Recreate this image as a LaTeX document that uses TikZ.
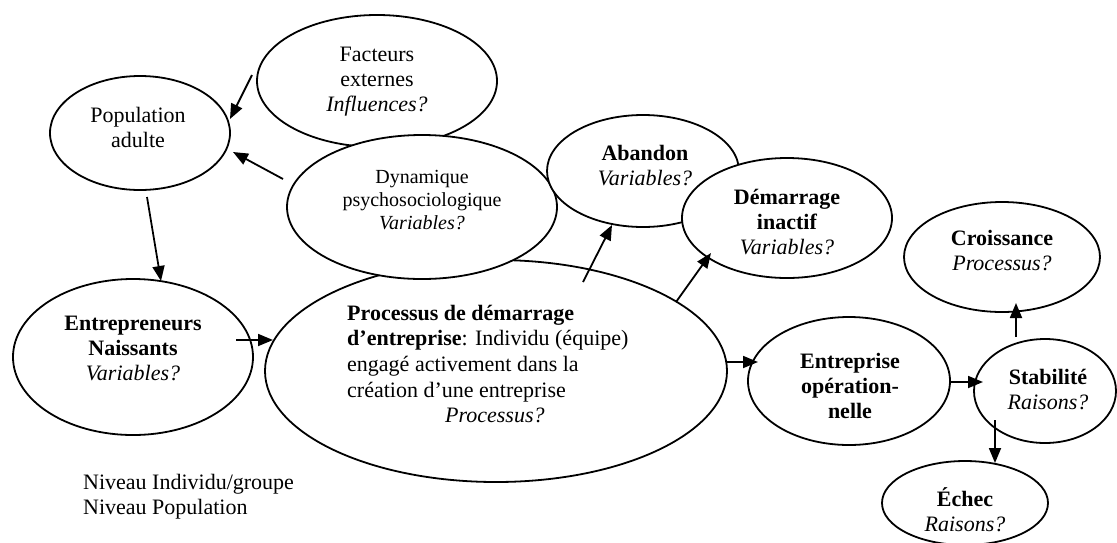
\documentclass[tikz,border=0pt]{standalone}
\usepackage{fontspec}
\setmainfont{Liberation Serif}
\usetikzlibrary{shapes.geometric,arrows.meta}
\begin{document}
\begin{tikzpicture}[x=1pt,y=-1pt,
  ell/.style={ellipse, draw, line width=1.8pt, fill=white, inner sep=0pt},
  sz/.style 2 args={minimum width=#1pt, minimum height=#2pt},
  txt/.style={align=center, inner sep=0pt, font=\fontsize{22}{25}\selectfont},
  arr/.style={line width=1.8pt, -{Triangle[length=15pt,width=12pt]}}]
\useasboundingbox (0,0) rectangle (1117,542);
% ellipses (drawing order matters for overlaps)
\node[ell, sz={462}{222}] (proc) at (496,371) {};
\node[ell, sz={240}{132}] (fact) at (377,81) {};
\node[ell, sz={270}{144}] (dyn) at (422,207) {};
\node[ell, sz={180}{114}] (pop) at (140,133) {};
\node[ell, sz={192}{112}] (aband) at (643,171) {};
\node[ell, sz={210}{120}] (dem) at (787,218) {};
\node[ell, sz={196}{110}] (croi) at (1002,257) {};
\node[ell, sz={240}{156}] (entr) at (133,357) {};
\node[ell, sz={202}{128}] (entp) at (849,381) {};
\node[ell, sz={142}{104}] (stab) at (1045,391) {};
\node[ell, sz={166}{84}] (ech) at (965,503) {};
% texts
\node[txt] (factt) at (377,82) {Facteurs\\externes\\\textit{Influences?}};
\node[txt] (popt) at (138,127) {Population\\adulte};
\node[txt, font=\fontsize{20}{23}\selectfont] (dynt) at (422,200) {Dynamique\\psychosociologique\\\textit{Variables?}};
\node[txt] (abandt) at (645,166) {\textbf{Abandon}\\\textit{Variables?}};
\node[txt] (demt) at (787,222) {\textbf{Démarrage}\\\textbf{inactif}\\\textit{Variables?}};
\node[txt] (croit) at (1002,251) {\textbf{Croissance}\\\textit{Processus?}};
\node[txt] (entrt) at (133,348) {\textbf{Entrepreneurs}\\\textbf{Naissants}\\\textit{Variables?}};
\node[txt, align=left, anchor=west, font=\fontsize{22}{25.7}\selectfont] (proct) at (347,364) {\textbf{Processus de démarrage}\\\textbf{d’entreprise}: Individu (équipe)\\engagé activement dans la\\création d’une entreprise\\\hspace*{98pt}\textit{Processus?}};
\node[txt] (entpt) at (850,386) {\textbf{Entreprise}\\\textbf{opération-}\\\textbf{nelle}};
\node[txt] (stabt) at (1048,390) {\textbf{Stabilité}\\\textit{Raisons?}};
\node[txt] (echt) at (965,510) {\textbf{Échec}\\\textit{Raisons?}};
\node[txt, align=left, anchor=west] (niv) at (83,497) {Niveau Individu/groupe\\Niveau Population};
% connectors
\draw[arr] ([shift={(-125,-6)}]fact.center) -- ([shift={(90,-14)}]pop.center);
\draw[arr] ([shift={(-139,-28)}]dyn.center) -- ([shift={(93,19)}]pop.center);
\draw[arr] ([shift={(7,64)}]pop.center) -- ([shift={(28,-76)}]entr.center);
\draw[arr] ([shift={(103,-17)}]entr.center) -- ([shift={(-223,-31)}]proc.center);
\draw[arr] ([shift={(87,-89)}]proc.center) -- ([shift={(-31,54)}]aband.center);
\draw[arr] ([shift={(180,-69)}]proc.center) -- ([shift={(-76,35)}]dem.center);
\draw[arr] ([shift={(230,-9)}]proc.center) -- ([shift={(-91,-19)}]entp.center);
\draw[arr] ([shift={(101,1)}]entp.center) -- ([shift={(-62,-9)}]stab.center);
\draw[arr] ([shift={(-29,-54)}]stab.center) -- ([shift={(14,46)}]croi.center);
\draw[arr] ([shift={(-50,29)}]stab.center) -- ([shift={(30,-40)}]ech.center);
\end{tikzpicture}
\end{document}
